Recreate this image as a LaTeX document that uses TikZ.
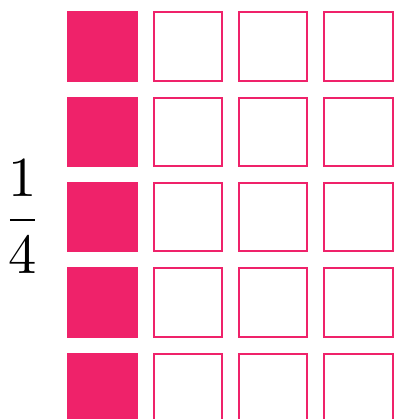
\documentclass[tikz,border=0pt]{standalone}
\usepackage{amsmath}
\usepackage{graphicx}
\definecolor{pinkc}{RGB}{239,34,106}
\tikzset{
  cell/.style={rectangle, draw=pinkc, line width=2pt, minimum size=68.4pt, inner sep=0pt},
  fullcell/.style={cell, fill=pinkc},
}
\begin{document}
\begin{tikzpicture}[x=1pt,y=-1pt]
\useasboundingbox (0,0) rectangle (394,419);
\clip (0,0) rectangle (394,419);
\foreach \j in {0,...,4}{
  \node[fullcell] (c0\j) at (102.5, 46.5+85.35*\j) {};
  \foreach \i in {1,2,3}{
    \node[cell] (c\i\j) at (102.5+85.35*\i, 46.5+85.35*\j) {};
  }
}
\node[inner sep=0pt] (frac) at (22.5,216.5) {\scalebox{5.65}{$\dfrac{\mkern-0.5mu 1\mkern-0.5mu}{\mkern-0.5mu 4\mkern-0.5mu}$}};
\end{tikzpicture}
\end{document}
